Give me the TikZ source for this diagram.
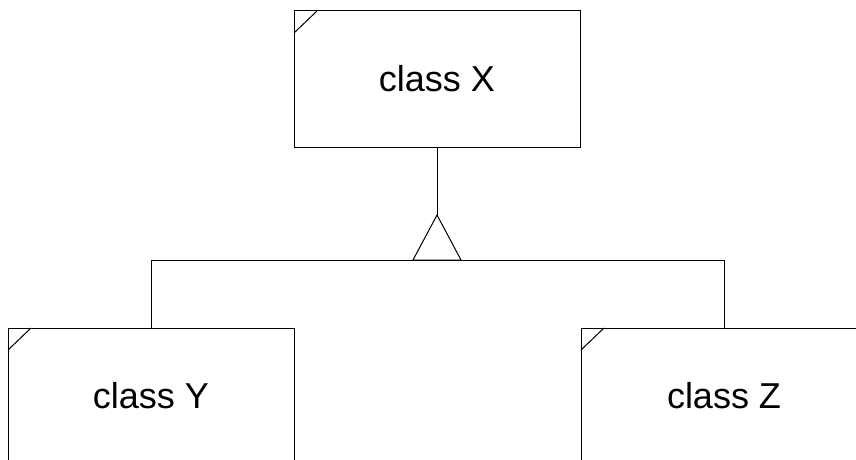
\documentclass[tikz,border=0pt]{standalone}
\usepackage{fontspec}
\setmainfont{Liberation Sans}
\begin{document}
\begin{tikzpicture}[x=1pt,y=-1pt,
  classbox/.style={draw=black, line width=1pt, rectangle, minimum width=286pt, minimum height=136pt,
    inner sep=0pt, outer sep=0pt, font=\fontsize{36}{40}\selectfont},
  conn/.style={draw=black, line width=1pt}]
\useasboundingbox (0,0) rectangle (856,460);
\clip (0,0) rectangle (856,460);
\fill[white] (0,0) rectangle (856,460);
\node[classbox] (X) at (437,79) {class X};
\node[classbox] (Y) at (151,396) {class Y};
\node[classbox] (Z) at (724,396) {class Z};
\foreach \n in {X,Y,Z}{
  \draw[conn] ([xshift=23pt]\n.north west) -- ([yshift=-22pt]\n.north west);
}
\coordinate (apex) at (437,215);
\coordinate (bl) at (413,260);
\coordinate (br) at (461,260);
\coordinate (hl) at (151,260);
\coordinate (hr) at (724,260);
\draw[conn] (X.south) -- (apex);
\draw[conn, line join=miter] (apex) -- (bl) -- (br) -- cycle;
\draw[conn] (hl) -- (hr);
\draw[conn] (hl) -- (Y.north);
\draw[conn] (hr) -- (Z.north);
\end{tikzpicture}
\end{document}
